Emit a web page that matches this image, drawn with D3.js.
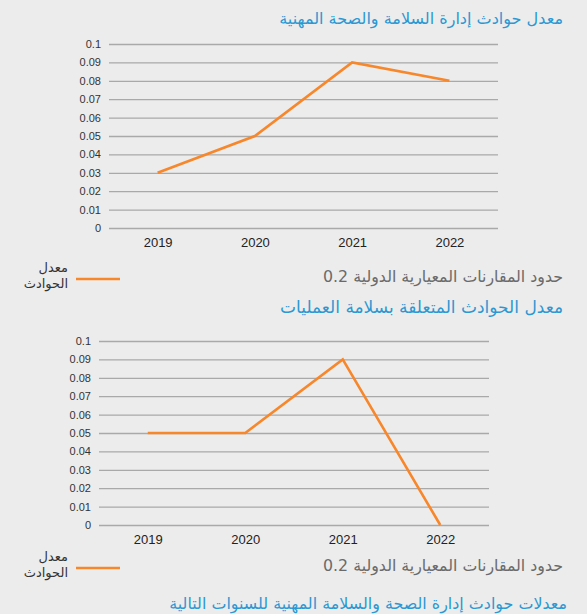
<!DOCTYPE html>
<html>
<head>
<meta charset="utf-8">
<script src="https://cdn.jsdelivr.net/npm/d3@7"></script>
<style>
  body { margin: 0; background: #ececec; }
  svg { display: block; font-family: "DejaVu Sans", sans-serif; }
</style>
</head>
<body>
<div id="chart"></div>
<script>
'use strict';

const years = ['2019', '2020', '2021', '2022'];
const ohsRate = [0.03, 0.05, 0.09, 0.08];
const processRate = [0.05, 0.05, 0.09, 0];
const yTicks = [0, 0.01, 0.02, 0.03, 0.04, 0.05, 0.06, 0.07, 0.08, 0.09, 0.1];
const titleOhs = 'معدل حوادث إدارة السلامة والصحة المهنية';
const titleProcess = 'معدل الحوادث المتعلقة بسلامة العمليات';
const titleNext = 'معدلات حوادث إدارة الصحة والسلامة المهنية للسنوات التالية';
const benchmarkLabel = 'حدود المقارنات المعيارية الدولية 0.2';
const legendLines = ['معدل', 'الحوادث'];

const W = 587, H = 614;
const orange = '#f7872a';
const blue = '#2b98d3';

const svg = d3.select('#chart')
  .append('svg')
    .attr('width', W)
    .attr('height', H);

svg.append('rect').attr('width', W).attr('height', H).attr('fill', '#ececec');

// fit a text to a given width by adjusting font size
function fitText(sel, width) {
  const len = sel.node().getComputedTextLength();
  const fs = parseFloat(sel.attr('font-size'));
  sel.attr('font-size', (fs * width / len).toFixed(2));
}

// rtl text: with direction rtl, anchor "start" sits on the right edge
function rtlText(parent, xRight, y, size, fill, text) {
  return parent.append('text')
      .attr('x', xRight)
      .attr('y', y)
      .attr('direction', 'rtl')
      .attr('text-anchor', 'start')
      .attr('font-size', size)
      .attr('fill', fill)
      .text(text);
}

function title(text, xRight, y, width) {
  const t = rtlText(svg, xRight, y, 16, blue, text);
  fitText(t, width);
  return t;
}

function drawChart(values, left, right, top, bottom, legendY) {
  const x = d3.scalePoint().domain(years).range([left, right]).padding(0.5);
  const y = d3.scaleLinear().domain([0, 0.1]).range([bottom, top]);

  const g = svg.append('g');

  const yAxis = d3.axisLeft(y)
      .tickValues(yTicks)
      .tickFormat(d => d === 0 ? '0' : String(+d.toFixed(2)))
      .tickSize(-(right - left))
      .tickPadding(8);

  g.append('g')
      .attr('class', 'y-axis')
      .attr('transform', `translate(${left},0)`)
      .call(yAxis)
      .call(a => a.select('.domain').remove())
      .call(a => a.selectAll('.tick line').attr('stroke', '#a9a9a9').attr('stroke-width', 1.3))
      .call(a => a.selectAll('.tick text')
        .attr('fill', '#333')
        .style('font-size', '11px')
        .style('font-family', '"Liberation Sans", Arial, sans-serif'));

  const xAxis = d3.axisBottom(x).tickSize(0).tickPadding(10);
  g.append('g')
      .attr('class', 'x-axis')
      .attr('transform', `translate(0,${bottom})`)
      .call(xAxis)
      .call(a => a.select('.domain').remove())
      .call(a => a.selectAll('.tick text')
        .attr('fill', '#222')
        .style('font-size', '13px')
        .style('font-family', '"Liberation Sans", Arial, sans-serif'));

  const line = d3.line()
      .x((d, i) => x(years[i]))
      .y(d => y(d));

  g.append('path')
      .datum(values)
      .attr('fill', 'none')
      .attr('stroke', orange)
      .attr('stroke-width', 2.6)
      .attr('d', line);

  // legend
  const lg = svg.append('g');
  lg.append('line')
      .attr('x1', 76).attr('x2', 120)
      .attr('y1', legendY).attr('y2', legendY)
      .attr('stroke', orange)
      .attr('stroke-width', 2.6);
  legendLines.forEach((d, i) => {
    rtlText(lg, 68, legendY - 7 + i * 16, 13, '#333', d);
  });

  const b = rtlText(svg, 563, legendY + 3, 15, '#6a6a6a', benchmarkLabel);
  fitText(b, 240);
}

title(titleOhs, 563, 24, 284);
drawChart(ohsRate, 109, 498, 44, 228, 279);
title(titleProcess, 563, 313, 283);
drawChart(processRate, 99, 489, 341, 525, 568);
title(titleNext, 567, 609, 398);
</script>
</body>
</html>
